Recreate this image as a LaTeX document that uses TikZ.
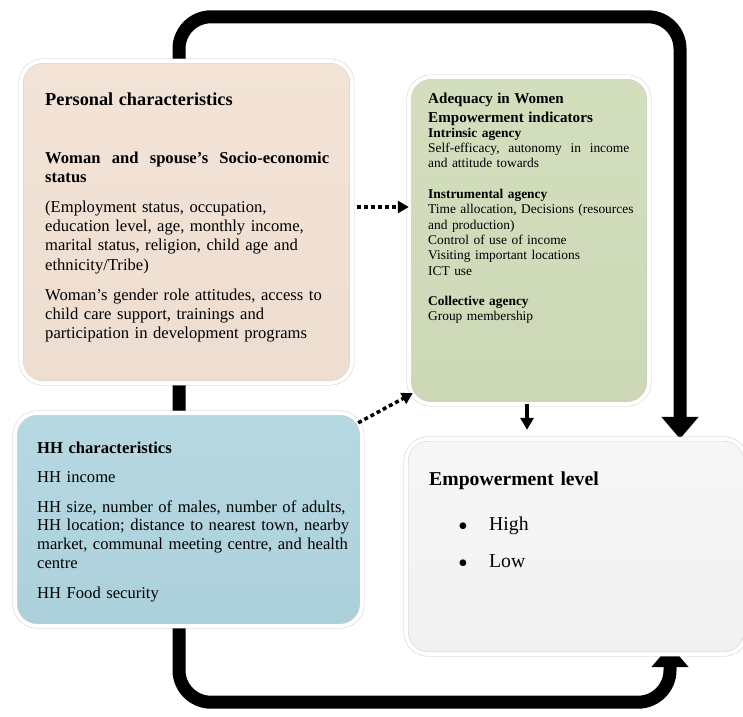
\documentclass[tikz,border=0pt]{standalone}
\usepackage{fontspec}
\setmainfont{Liberation Serif}
\usepackage{tikz}
\usetikzlibrary{positioning}
\usetikzlibrary{arrows.meta}
\usetikzlibrary{shadows}
\usetikzlibrary{backgrounds}

\definecolor{persfill}{RGB}{242,226,212}
\definecolor{agencyfill}{RGB}{208,220,185}
\definecolor{hhfill}{RGB}{176,213,223}
\definecolor{levelfill}{RGB}{246,246,246}

% a justified line: words spread over the given width
\newcommand{\spreadline}[2]{\leavevmode\hbox to #1{#2}}
% list bullet, a bit larger than the text
\newcommand{\levelbullet}{\makebox[60pt][l]{\hspace*{29pt}\raisebox{-5pt}{\fontsize{28}{28}\selectfont\textbullet}}}

\tikzset{
    panel/.style={rectangle, rounded corners=22pt, draw=black!22, double=white,
        double distance=4pt, top color=#1!93!white, bottom color=#1!98!black,
        drop shadow={opacity=0.25, shadow xshift=0pt, shadow yshift=-2pt}, inner sep=0pt},
    paneltext/.style={anchor=base west, inner sep=0pt, align=left},
    loopline/.style={line width=13pt, rounded corners=32pt, -{Triangle[length=22pt, width=36pt]}},
    dotarrow/.style={line width=3.5pt, dash pattern=on 4pt off 3pt, -{Triangle[length=11pt, width=12pt]}},
    steparrow/.style={line width=3.5pt, -{Triangle[length=12pt, width=13pt]}},
}

\begin{document}
\begin{tikzpicture}[x=1pt, y=-1pt]
    \useasboundingbox (0,0) rectangle (743,716);

    % the four panels
    \node[panel=persfill, minimum width=331pt, minimum height=322pt] (pers) at (186.5,222) {};
    \node[panel=agencyfill, minimum width=240pt, minimum height=327pt] (agency) at (529,240.5) {};
    \node[panel=hhfill, minimum width=347pt, minimum height=213pt] (hh) at (188.5,519.5) {};
    \node[panel=levelfill, minimum width=340pt, minimum height=215pt] (lvl) at (576,546.5) {};

    \node[paneltext, text width=300pt, font=\fontsize{16.6}{19.3}\selectfont] (perstext) at (45,105) {%
        {\fontsize{18.3}{19.3}\selectfont\bfseries Personal characteristics}\\[38.7pt]
        \textbf{\spreadline{284pt}{Woman\hfill and\hfill spouse's\hfill Socio-economic}}\\
        \textbf{status}\\[10.7pt]
        (Employment status, occupation,\\
        education level, age, monthly income,\\
        marital status, religion, child age and\\
        ethnicity/Tribe)\\[10.7pt]
        Woman's gender role attitudes, access to\\
        child care support, trainings and\\
        participation in development programs};

    \node[paneltext, text width=215pt, font=\fontsize{13.4}{15.3}\selectfont] (agencytext) at (428,103) {%
        {\fontsize{15.1}{15.3}\selectfont\bfseries Adequacy in Women\\[3.7pt]
        Empowerment indicators}\\
        \textbf{Intrinsic agency}\\
        \spreadline{201pt}{Self-efficacy,\hfill autonomy\hfill in\hfill income}\\
        and attitude towards\\[15.3pt]
        \textbf{Instrumental agency}\\
        Time allocation, Decisions (resources\\
        and production)\\
        Control of use of income\\
        Visiting important locations\\
        ICT use\\[15.3pt]
        \textbf{Collective agency}\\
        Group membership};

    \node[paneltext, text width=330pt, font=\fontsize{16.6}{18.9}\selectfont] (hhtext) at (37,453) {%
        \textbf{HH characteristics}\\[10.1pt]
        HH income\\[11.1pt]
        HH size, number of males, number of adults,\\
        HH location; distance to nearest town, nearby\\
        market, communal meeting centre, and health\\
        centre\\[11.1pt]
        HH Food security};

    \node[paneltext, text width=300pt, font=\fontsize{19.7}{37}\selectfont] (lvltext) at (429,485) {%
        \textbf{Empowerment level}\\[8pt]
        \levelbullet High\\
        \levelbullet Low};

    % connectors run behind the panels
    \begin{scope}[on background layer]
        \draw[loopline] ([xshift=-9.5pt]hh.north) -- ++(0,-396) -| ([xshift=104pt]lvl.north);
        \draw[loopline] ([xshift=-9.5pt]hh.south) -- ++(0,76) -| ([shift={(94pt,9pt)}]lvl.south);
    \end{scope}
    \draw[dotarrow] ([shift={(5pt,15pt)}]pers.east) -- ([yshift=15pt]pers.east -| agency.west);
    \draw[dotarrow] ([shift={(-4pt,-10pt)}]hh.north east) -- ([shift={(4pt,11pt)}]agency.south west);
    \draw[steparrow, shorten >=9pt] ([xshift=-2pt]agency.south) -- ([xshift=-2pt]agency.south |- lvl.north);
\end{tikzpicture}
\end{document}
